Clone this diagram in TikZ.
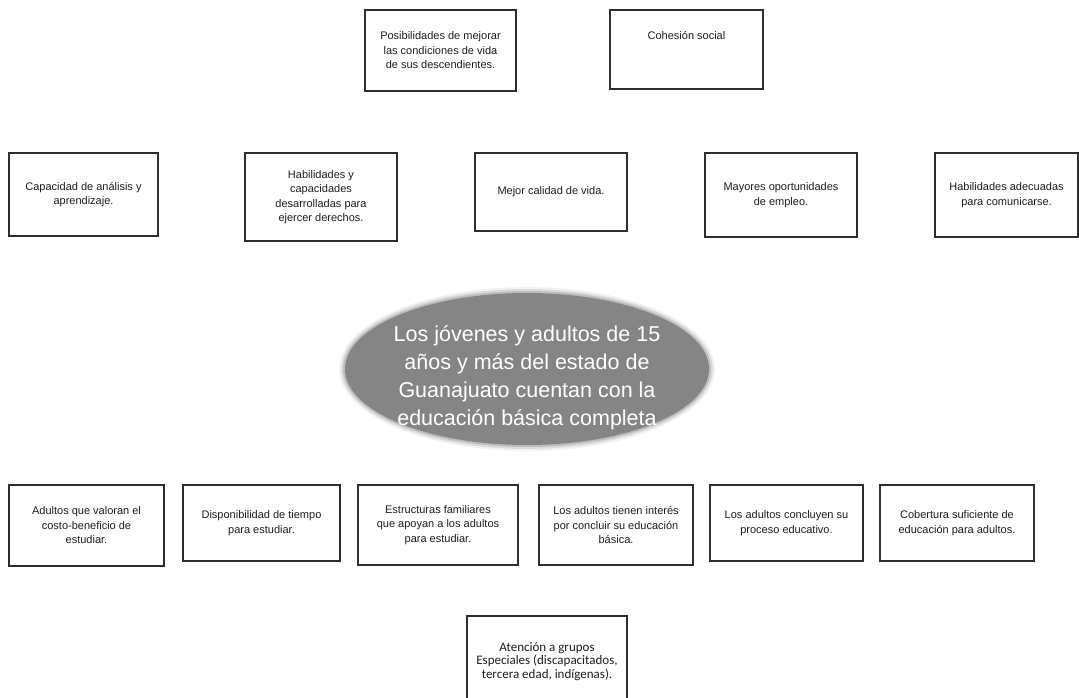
\documentclass[tikz,border=0pt]{standalone}
\usepackage{fontspec}
\setmainfont{Liberation Sans}
\newfontfamily\atfont{Carlito}
\usetikzlibrary{shapes.geometric}
\definecolor{edge}{HTML}{2E2E2E}
\definecolor{ink}{HTML}{1E1E1E}
\definecolor{ellfill}{HTML}{858585}
\tikzset{
  box/.style={draw=edge, line width=1.1pt, rectangle, inner sep=0pt, fill=white,
    align=center, text=ink, font=\fontsize{11}{14.5}\selectfont},
  boxtext/.style={align=center, text=ink, inner sep=0pt, font=\fontsize{11}{14.5}\selectfont},
  goal/.style={ellipse, fill=ellfill, draw=none, inner sep=0pt},
  goaltext/.style={align=center, text=white, inner sep=0pt, font=\fontsize{21.5}{28}\selectfont}
}
\newcommand\bx[6]{%
  \pgfmathsetmacro\bw{#4-#2}\pgfmathsetmacro\bh{#5-#3}%
  \pgfmathsetmacro\cx{(#2+#4)/2}\pgfmathsetmacro\cy{(#3+#5)/2}%
  \node[box, minimum width=\bw pt, minimum height=\bh pt] (#1) at (\cx,\cy) {#6};}
\begin{document}
\begin{tikzpicture}[x=1pt,y=-1pt]
\useasboundingbox[fill=white] (0,0) rectangle (1079,698);
% top row
\bx{posib}{365}{10}{516}{91}{Posibilidades de mejorar\\las condiciones de vida\\de sus descendientes.}
\bx{cohes}{610}{10}{763}{89}{}
\node[boxtext, anchor=north] (cohtxt) at ([yshift=-22pt]cohes.north) {Cohesión social};
% middle row
\bx{capac}{9}{153}{158}{236}{Capacidad de análisis y\\aprendizaje.}
\bx{habder}{245}{153}{397}{241}{Habilidades y\\capacidades\\desarrolladas para\\ejercer derechos.}
\bx{mejor}{475}{153}{627}{231}{Mejor calidad de vida.}
\bx{mayor}{705}{153}{857}{237}{Mayores oportunidades\\de empleo.}
\bx{habcom}{935}{153}{1078}{237}{Habilidades adecuadas\\para comunicarse.}
% central goal
\foreach \g/\o in {6/0.10,4/0.2,2/0.35}{
  \node[ellipse, fill=ellfill, opacity=\o, minimum width={364pt+2*\g pt}, minimum height={152pt+2*\g pt}] at (527,369) {};
}
\node[goal, minimum width=364pt, minimum height=152pt] (goal) at (527,369) {};
\node[goaltext] (goaltxt) at ([yshift=-9pt]goal.center)
  {Los jóvenes y adultos de 15\\años y más del estado de\\Guanajuato cuentan con la\\educación básica completa};
% bottom row
\bx{valor}{9}{485}{164}{566}{Adultos que valoran el\\costo-beneficio de\\estudiar.}
\bx{dispo}{183}{485}{340}{561}{Disponibilidad de tiempo\\para estudiar.}
\bx{estru}{358}{485}{518}{565}{Estructuras familiares\\que apoyan a los adultos\\para estudiar.}
\bx{inter}{539}{485}{693}{565}{Los adultos tienen interés\\por concluir su educación\\básica.}
\bx{conclu}{710}{485}{863}{561}{Los adultos concluyen su\\proceso educativo.}
\bx{cober}{880}{485}{1034}{561}{Cobertura suficiente de\\educación para adultos.}
% last
\bx{atenc}{467}{616}{627}{699}{}
\node[boxtext, font=\atfont\fontsize{13}{13.6}\selectfont] (atxt) at ([yshift=-4pt]atenc.center)
  {Atención a grupos\\Especiales (discapacitados,\\tercera edad, indígenas).};
\end{tikzpicture}
\end{document}
